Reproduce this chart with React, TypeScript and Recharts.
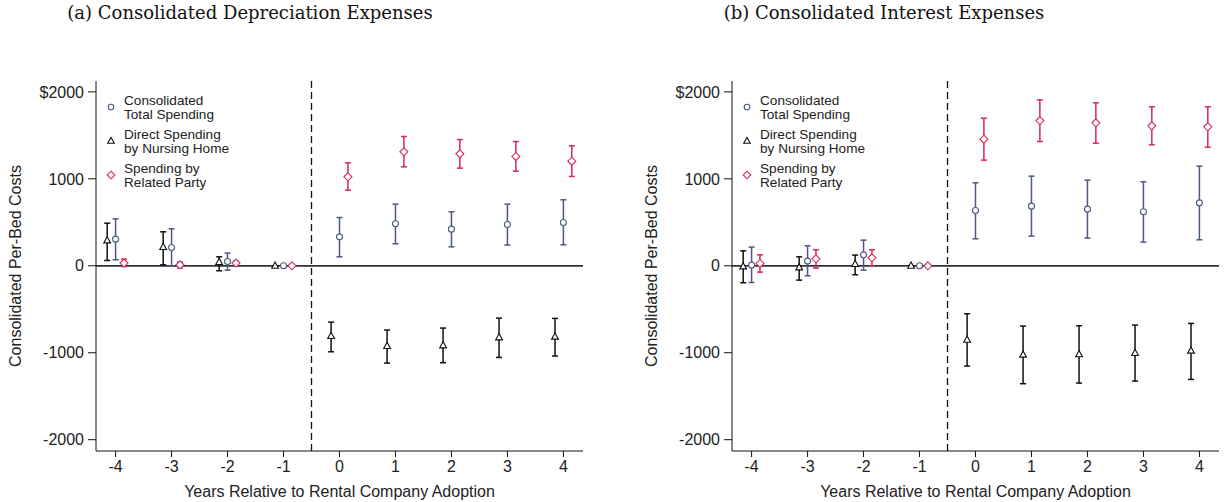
import React from 'react';
import { ScatterChart, Scatter, XAxis, YAxis, ErrorBar, ReferenceLine, Label } from 'recharts';

const years = [-4, -3, -2, -1, 0, 1, 2, 3, 4];
const yTicks = [-2000, -1000, 0, 1000, 2000];
const legendNames = [
  ['Consolidated', 'Total Spending'],
  ['Direct Spending', 'by Nursing Home'],
  ['Spending by', 'Related Party'],
];

// (a) depreciation
const depTotal = [306, 211, 50, 0, 333, 483, 421, 475, 498];
const depTotalLo = [69, 0, -50, 0, 103, 253, 218, 238, 241];
const depTotalHi = [540, 425, 146, 0, 555, 709, 621, 709, 759];
const depDirect = [291, 215, 42, 0, -808, -923, -916, -824, -816];
const depDirectLo = [61, 11, -57, 0, -989, -1119, -1115, -1054, -1038];
const depDirectHi = [490, 391, 103, 0, -648, -739, -716, -602, -605];
const depRelated = [31, 11, 31, 0, 1023, 1310, 1287, 1257, 1203];
const depRelatedLo = [-8, -27, 8, 0, 870, 1138, 1123, 1088, 1027];
const depRelatedHi = [77, 42, 54, 0, 1184, 1487, 1452, 1429, 1379];

// (b) interest
const intTotal = [8, 54, 126, 0, 636, 686, 651, 621, 724];
const intTotalLo = [-192, -115, -50, 0, 310, 341, 318, 272, 299];
const intTotalHi = [215, 230, 295, 0, 954, 1031, 985, 966, 1146];
const intDirect = [-8, -19, 19, 0, -851, -1023, -1019, -1004, -977];
const intDirectLo = [-195, -165, -103, 0, -1153, -1356, -1349, -1326, -1307];
const intDirectHi = [172, 103, 123, 0, -552, -693, -690, -682, -663];
const intRelated = [27, 80, 92, 0, 1456, 1670, 1644, 1609, 1598];
const intRelatedLo = [-73, -27, 0, 0, 1215, 1429, 1410, 1391, 1364];
const intRelatedHi = [126, 184, 184, 0, 1697, 1908, 1874, 1828, 1828];

const NAVY = '#4b5a7e';
const RED = '#d62a55';
const BLACK = '#111';
const FONT = '"Liberation Sans", Arial, sans-serif';
const dodge = 0.15;

function points(vals: number[], lo: number[], hi: number[], shift: number) {
  return years.map((yr, i) => ({ x: yr + shift, y: vals[i], err: [vals[i] - lo[i], hi[i] - vals[i]] }));
}

const CircleMark = (p: any) => (
  <circle cx={p.cx} cy={p.cy} r={3} fill="#fff" stroke={NAVY} strokeWidth={1.1} />
);
const TriangleMark = (p: any) => (
  <polygon
    points={`${p.cx},${p.cy - 3.8} ${p.cx + 3.4},${p.cy + 2.4} ${p.cx - 3.4},${p.cy + 2.4}`}
    fill="#fff" stroke={BLACK} strokeWidth={1.1} />
);
const DiamondMark = (p: any) => (
  <polygon
    points={`${p.cx},${p.cy - 4} ${p.cx + 4},${p.cy} ${p.cx},${p.cy + 4} ${p.cx - 4},${p.cy}`}
    fill="#fff" stroke={RED} strokeWidth={1.1} />
);

function LegendBox({ left }: { left: number }) {
  const marks = [
    <circle cx={8} cy={19} r={2.8} fill="#fff" stroke={NAVY} strokeWidth={1.1} />,
    <polygon points="8,49.4 11.3,55.3 4.7,55.3" fill="#fff" stroke={BLACK} strokeWidth={1.1} />,
    <polygon points="8,83.2 11.8,87 8,90.8 4.2,87" fill="#fff" stroke={RED} strokeWidth={1.1} />,
  ];
  return (
    <svg width={170} height={110} style={{ position: 'absolute', left, top: 88 }}>
      {legendNames.map((lines, i) => (
        <g key={i}>
          {marks[i]}
          {lines.map((t, j) => (
            <text key={j} x={21} y={17 + i * 34 + j * 13.6} fontSize={13.6} fontFamily={FONT} fill="#222">{t}</text>
          ))}
        </g>
      ))}
    </svg>
  );
}

function Panel(props: {
  total: any[]; direct: any[]; related: any[]; width: number; yAxisWidth: number; right: number; labelX: number;
}) {
  return (
    <ScatterChart width={props.width} height={502} margin={{ top: 81, right: props.right, bottom: 21, left: 0 }}>
      <XAxis
        type="number" dataKey="x" domain={[-4.35, 4.35]} ticks={years} allowDataOverflow height={30}
        tickSize={6} tickMargin={4} stroke="#111" tick={{ fill: '#222', fontSize: 16, fontFamily: FONT }}
      >
        <Label
          content={() => (
            <text x={props.yAxisWidth + (props.width - props.yAxisWidth - props.right) / 2} y={497}
              textAnchor="middle" fontSize={16} fontFamily={FONT} fill="#222">
              Years Relative to Rental Company Adoption
            </text>
          )}
        />
      </XAxis>
      <YAxis
        type="number" dataKey="y" domain={[-2130, 2125]} ticks={yTicks} allowDataOverflow width={props.yAxisWidth}
        tickSize={8} tickMargin={4} stroke="#111"
        tick={{ fill: '#222', fontSize: 16, fontFamily: FONT }}
        tickFormatter={(v: number) => (v === 2000 ? '$2000' : String(v))}
      >
        <Label
          content={() => (
            <text x={props.labelX} y={266} transform={`rotate(-90 ${props.labelX} 266)`}
              textAnchor="middle" dominantBaseline="central" fontSize={16} fontFamily={FONT} fill="#222">
              Consolidated Per-Bed Costs
            </text>
          )}
        />
      </YAxis>
      <ReferenceLine y={0} stroke="#333" strokeWidth={1.8} />
      <ReferenceLine x={-0.5} stroke="#111" strokeWidth={1.3} strokeDasharray="7 4" />
      <Scatter data={props.direct} shape={TriangleMark} isAnimationActive={false}>
        <ErrorBar dataKey="err" direction="y" width={3} stroke={BLACK} strokeWidth={1.5} />
      </Scatter>
      <Scatter data={props.total} shape={CircleMark} isAnimationActive={false}>
        <ErrorBar dataKey="err" direction="y" width={3} stroke={NAVY} strokeWidth={1.5} />
      </Scatter>
      <Scatter data={props.related} shape={DiamondMark} isAnimationActive={false}>
        <ErrorBar dataKey="err" direction="y" width={3} stroke={RED} strokeWidth={1.5} />
      </Scatter>
    </ScatterChart>
  );
}

const titleStyle: React.CSSProperties = {
  position: 'absolute', top: 2, fontFamily: '"DejaVu Serif", serif', fontSize: 18,
  color: '#111', whiteSpace: 'nowrap', transform: 'translateX(-50%)',
};

export default function App() {
  return (
    <div style={{ position: 'absolute', left: 0, top: 0, width: 1225, height: 502, background: '#fff' }}>
      <div style={{ ...titleStyle, left: 250 }}>(a) Consolidated Depreciation Expenses</div>
      <div style={{ ...titleStyle, left: 884 }}>(b) Consolidated Interest Expenses</div>
      <div style={{ position: 'absolute', left: 0, top: 0 }}>
        <Panel
          total={points(depTotal, depTotalLo, depTotalHi, 0)}
          direct={points(depDirect, depDirectLo, depDirectHi, -dodge)}
          related={points(depRelated, depRelatedLo, depRelatedHi, dodge)}
          width={612} yAxisWidth={96} right={29} labelX={15}
        />
        <LegendBox left={103} />
      </div>
      <div style={{ position: 'absolute', left: 612, top: 0 }}>
        <Panel
          total={points(intTotal, intTotalLo, intTotalHi, 0)}
          direct={points(intDirect, intDirectLo, intDirectHi, -dodge)}
          related={points(intRelated, intRelatedLo, intRelatedHi, dodge)}
          width={613} yAxisWidth={120} right={6} labelX={39}
        />
        <LegendBox left={127} />
      </div>
    </div>
  );
}
